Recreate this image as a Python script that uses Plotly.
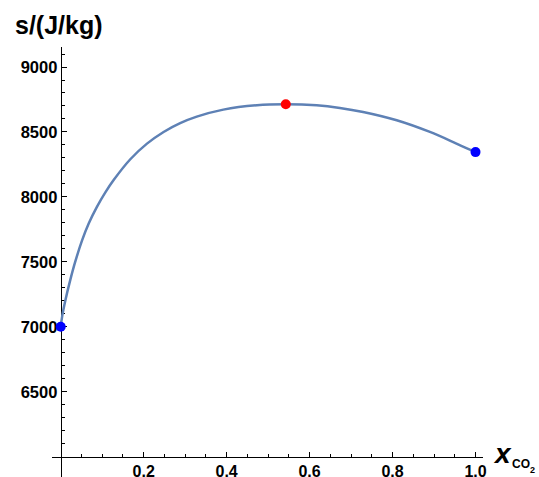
import plotly.graph_objects as go

# Curve data
x_vals = [0.0, 0.004, 0.0113, 0.0234, 0.0354, 0.0515, 0.0675, 0.0876, 0.1076, 0.1276,
          0.1678, 0.208, 0.248, 0.288, 0.328, 0.392, 0.473, 0.5426, 0.617, 0.673,
          0.729, 0.81, 0.89, 0.954, 1.0]
s_vals = [7000, 7090, 7205, 7365, 7505, 7665, 7795, 7925, 8035, 8130,
          8290, 8410, 8500, 8568, 8618, 8672, 8706, 8713, 8705, 8685,
          8654, 8590, 8500, 8411, 8345]

# Marked points
end_x = [0.0, 1.0]
end_s = [7000, 8345]
max_x = [0.5426]
max_s = [8713]

# Axes
x_ticks = [0.2, 0.4, 0.6, 0.8, 1.0]
x_ticklabels = ["0.2", "0.4", "0.6", "0.8", "1.0"]
x_minor = [0.05, 0.1, 0.15, 0.25, 0.3, 0.35, 0.45, 0.5, 0.55, 0.65, 0.7, 0.75, 0.85, 0.9, 0.95]
y_ticks = [6500, 7000, 7500, 8000, 8500, 9000]
y_ticklabels = ["6500", "7000", "7500", "8000", "8500", "9000"]
y_minor = [v for v in range(6100, 9200, 100) if v % 500 != 0]

x_range = [-0.021, 1.018]
y_range = [5844, 9154]
x_origin = 0.0
y_origin = 6000

FONT = "Liberation Sans, Arial, sans-serif"
LINE = "#5E81B5"

fig = go.Figure()
fig.add_trace(go.Scatter(x=x_vals, y=s_vals, mode="lines",
                         line=dict(color=LINE, width=2.5, shape="spline", smoothing=1.0),
                         hoverinfo="skip", showlegend=False))
fig.add_trace(go.Scatter(x=end_x, y=end_s, mode="markers",
                         marker=dict(color="#0000FF", size=10, line=dict(width=0)),
                         showlegend=False))
fig.add_trace(go.Scatter(x=max_x, y=max_s, mode="markers",
                         marker=dict(color="#FF0000", size=10, line=dict(width=0)),
                         showlegend=False))

xpos = (y_origin - y_range[0]) / (y_range[1] - y_range[0])
ypos = (x_origin - x_range[0]) / (x_range[1] - x_range[0])

fig.update_layout(
    width=539, height=477,
    margin=dict(l=52, r=56, t=47, b=0, autoexpand=False),
    paper_bgcolor="white", plot_bgcolor="white",
    font=dict(family=FONT, color="black"),
    xaxis=dict(range=x_range, anchor="free", position=xpos,
               showgrid=False, zeroline=False, showline=True, linecolor="black", linewidth=1,
               tickmode="array", tickvals=x_ticks, ticktext=[f"<b>{t}</b>" for t in x_ticklabels],
               ticks="inside", ticklen=5, tickcolor="black", tickwidth=1,
               tickfont=dict(family=FONT, size=16, color="black"),
               minor=dict(tickmode="array", tickvals=x_minor, ticks="inside", ticklen=3,
                          tickcolor="black", tickwidth=1, showgrid=False),
               layer="below traces", automargin=False, fixedrange=True),
    yaxis=dict(range=y_range, anchor="free", position=ypos,
               showgrid=False, zeroline=False, showline=True, linecolor="black", linewidth=1,
               tickmode="array", tickvals=y_ticks, ticktext=[f"<b>{t}</b>" for t in y_ticklabels],
               ticks="inside", ticklen=5, tickcolor="black", tickwidth=1,
               tickfont=dict(family=FONT, size=16.5, color="black"),
               minor=dict(tickmode="array", tickvals=y_minor, ticks="inside", ticklen=3,
                          tickcolor="black", tickwidth=1, showgrid=False),
               layer="below traces", automargin=False, fixedrange=True),
    annotations=[
        dict(text="<b>s/(J/kg)</b>", xref="paper", yref="paper", x=-0.09, y=1.0,
             xanchor="left", yanchor="bottom", yshift=6, showarrow=False,
             font=dict(family=FONT, size=25, color="black")),
        dict(text="<b><i>x</i></b>", xref="paper", yref="y", x=1.0, y=y_origin,
             xanchor="left", yanchor="middle", xshift=8, yshift=3, showarrow=False,
             font=dict(family=FONT, size=28, color="black")),
        dict(text="<b>CO</b>", xref="paper", yref="y", x=1.0, y=y_origin,
             xanchor="left", yanchor="middle", xshift=27, yshift=-7, showarrow=False,
             font=dict(family=FONT, size=12, color="black")),
        dict(text="<b>2</b>", xref="paper", yref="y", x=1.0, y=y_origin,
             xanchor="left", yanchor="middle", xshift=45, yshift=-13, showarrow=False,
             font=dict(family=FONT, size=9, color="black")),
    ],
)

fig.write_html("out.html")
